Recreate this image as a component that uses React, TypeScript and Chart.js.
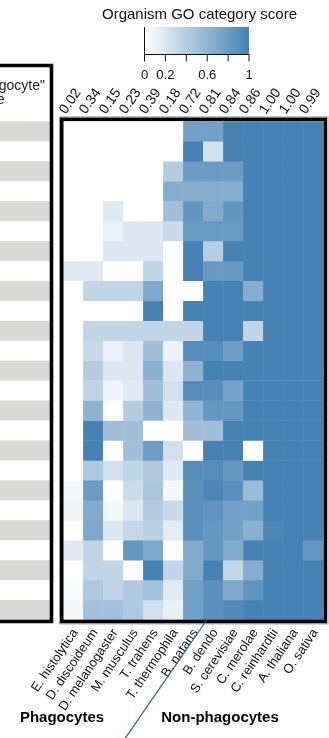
import React, { useEffect, useRef } from 'react';
import { Chart, registerables } from 'chart.js';

Chart.register(...registerables);

const organisms = [
  'E. histolytica', 'D. discoideum', 'D. melanogaster', 'M. musculus', 'T. trahens',
  'T. thermophila', 'B. natans', 'B. dendo', 'S. cerevisiae', 'C. merolae',
  'C. reinhardtii', 'A. thaliana', 'O. sativa',
];
const scoreLabels = ['0.02', '0.34', '0.15', '0.23', '0.39', '0.18', '0.72', '0.81', '0.84', '0.86', '1.00', '1.00', '0.99'];

const row00 = [0, 0, 0, 0, 0, 0, 0.76, 0.76, 1, 1, 1, 1, 1];
const row01 = [0, 0, 0, 0, 0, 0, 1, 0.24, 1, 1, 1, 1, 1];
const row02 = [0, 0, 0, 0, 0, 0.41, 0.8, 0.8, 0.8, 1, 1, 1, 1];
const row03 = [0, 0, 0, 0, 0, 0.66, 0.66, 0.66, 0.66, 1, 1, 1, 1];
const row04 = [0, 0, 0.18, 0, 0, 0.51, 0.84, 0.68, 0.84, 1, 1, 1, 1];
const row05 = [0, 0, 0.11, 0.19, 0.19, 0.29, 0.81, 0.81, 0.81, 1, 1, 1, 1];
const row06 = [0, 0, 0.19, 0.19, 0.19, 0, 1, 0.39, 1, 1, 1, 1, 1];
const row07 = [0.17, 0.17, 0, 0, 0.34, 0, 1, 0.82, 0.82, 1, 1, 1, 1];
const row08 = [0, 0.34, 0.34, 0.34, 0.69, 0, 0, 1, 1, 0.66, 1, 1, 1];
const row09 = [0, 0, 0, 0, 1, 0, 1, 1, 1, 1, 1, 1, 1];
const row10 = [0, 0.34, 0.34, 0.34, 0.34, 0.34, 0.34, 1, 1, 0.34, 1, 1, 1];
const row11 = [0, 0.3, 0.11, 0.19, 0.51, 0.11, 0.91, 0.91, 0.78, 1, 1, 1, 1];
const row12 = [0, 0.41, 0.19, 0.19, 0.62, 0.19, 0.61, 1, 1, 1, 1, 1, 1];
const row13 = [0, 0.35, 0.08, 0.17, 0.51, 0.25, 0.92, 0.92, 0.75, 1, 1, 1, 1];
const row14 = [0, 0.61, 0, 0.41, 0.61, 0.19, 0.6, 0.83, 0.83, 1, 1, 1, 1];
const row15 = [0, 1, 0.51, 0.51, 0, 0, 0.51, 0.51, 1, 1, 1, 1, 1];
const row16 = [0, 1, 0, 0.51, 0.79, 0.25, 0, 1, 1, 0, 1, 1, 1];
const row17 = [0, 0.43, 0.25, 0.34, 0.43, 0.17, 0.92, 0.92, 0.83, 1, 1, 1, 1];
const row18 = [0.06, 0.8, 0, 0.28, 0.46, 0.06, 0.89, 0.96, 0.89, 0.54, 1, 1, 1];
const row19 = [0.09, 0.68, 0.06, 0.19, 0.42, 0.29, 0.9, 0.86, 0.76, 0.76, 1, 1, 1];
const row20 = [0, 0.7, 0.2, 0.31, 0.38, 0.15, 0.9, 0.83, 0.76, 0.63, 0.96, 1, 1];
const row21 = [0.18, 0.34, 0, 0.83, 0.69, 0, 0.68, 0.83, 0.68, 1, 1, 1, 0.83];
const row22 = [0, 0.34, 0.34, 0, 1, 0.34, 0.68, 1, 0.32, 0.66, 1, 1, 1];
const row23 = [0.04, 0.44, 0.34, 0.43, 0.49, 0.16, 0.76, 0.88, 0.7, 0.86, 1, 1, 1];
const row24 = [0.06, 0.5, 0.5, 0.43, 0.25, 0.12, 0.77, 0.88, 0.94, 1, 1, 1, 1];

const rows = [
  row00, row01, row02, row03, row04, row05, row06, row07, row08, row09, row10, row11, row12,
  row13, row14, row15, row16, row17, row18, row19, row20, row21, row22, row23, row24,
];

const colorbarTicks = [0, 0.2, 0.4, 0.6, 0.8, 1];
const colorbarLabels = ['0', '0.2', '', '0.6', '', '1'];
const groupLabels = ['Phagocytes', 'Non-phagocytes'];

const LOW = [255, 255, 255];
const HIGH = [70, 130, 180];
const FONT = '"Liberation Sans", Arial, sans-serif';

function valueToColor(v: number): string {
  const c = LOW.map((l, i) => Math.round(l + (HIGH[i] - l) * v));
  return `rgb(${c[0]},${c[1]},${c[2]})`;
}

const decorPlugin = {
  id: 'decor',
  beforeDatasetsDraw(chart: any) {
    const { ctx, scales } = chart;
    const y = scales.y;
    ctx.save();
    ctx.fillStyle = '#d9d9d7';
    rows.forEach((_, r) => {
      if (r % 2 === 0) {
        const t = y.getPixelForValue(r);
        const b = y.getPixelForValue(r + 1);
        ctx.fillRect(0, t, 50, b - t);
      }
    });
    ctx.restore();
  },
  afterDraw(chart: any) {
    const { ctx, chartArea: a, scales } = chart;
    const x = scales.x;
    ctx.save();
    ctx.strokeStyle = '#b0b0b0';
    ctx.lineWidth = 1;
    ctx.strokeRect(a.left - 3.8, a.top - 4.5, a.right - a.left + 8.6, a.bottom - a.top + 8.5);
    ctx.strokeStyle = '#000';
    ctx.lineWidth = 3.6;
    ctx.strokeRect(a.left - 1.6, a.top - 2, a.right - a.left + 3.6, a.bottom - a.top + 3.5);

    ctx.beginPath();
    ctx.moveTo(-2, 65.5);
    ctx.lineTo(51.5, 65.5);
    ctx.lineTo(51.5, a.bottom + 1.5);
    ctx.lineTo(-2, a.bottom + 1.5);
    ctx.stroke();

    ctx.fillStyle = '#222';
    ctx.font = `14px ${FONT}`;
    ctx.textAlign = 'right';
    ctx.textBaseline = 'middle';
    ctx.fillText('"Phagocyte"', 45, 86);
    ctx.fillText('score', 4.5, 100);

    const cbL = 144.5, cbR = 249, cbT = 27, cbB = 54.5;
    const g = ctx.createLinearGradient(cbL, 0, cbR, 0);
    g.addColorStop(0, valueToColor(0));
    g.addColorStop(1, valueToColor(1));
    ctx.fillStyle = g;
    ctx.fillRect(cbL, cbT, cbR - cbL, cbB - cbT);
    ctx.strokeStyle = '#111';
    ctx.lineWidth = 1;
    ctx.beginPath();
    ctx.moveTo(cbL, cbT);
    ctx.lineTo(cbL, cbB);
    ctx.lineTo(cbR, cbB);
    colorbarTicks.forEach((t) => {
      const px = cbL + (cbR - cbL) * t;
      ctx.moveTo(px, cbB);
      ctx.lineTo(px, cbB + 7);
    });
    ctx.stroke();
    ctx.fillStyle = '#111';
    ctx.font = `13px ${FONT}`;
    ctx.textAlign = 'center';
    ctx.textBaseline = 'middle';
    colorbarTicks.forEach((t, i) => {
      const px = cbL + (cbR - cbL) * t;
      if (colorbarLabels[i]) ctx.fillText(colorbarLabels[i], px, 75.5);
    });
    ctx.font = `15px ${FONT}`;
    ctx.fillText('Organism GO category score', 199.5, 14.5);

    const sx = x.getPixelForValue(6) + (x.getPixelForValue(7) - x.getPixelForValue(6)) * 0.67;
    const sy = a.bottom;
    ctx.strokeStyle = '#2b6a9b';
    ctx.lineWidth = 1.3;
    ctx.beginPath();
    ctx.moveTo(sx, sy);
    ctx.lineTo(sx - 82, sy + 119);
    ctx.stroke();

    ctx.fillStyle = '#000';
    ctx.font = `bold 15px ${FONT}`;
    ctx.textAlign = 'center';
    ctx.fillText(groupLabels[0], 62, 718);
    ctx.fillText(groupLabels[1], 220, 718);
    ctx.restore();
  },
};

export default function App() {
  const ref = useRef<HTMLCanvasElement | null>(null);
  useEffect(() => {
    if (!ref.current) return;
    const chart = new Chart(ref.current, {
      type: 'bar',
      data: {
        labels: organisms,
        datasets: rows.map((vals, r) => ({
          label: `row ${r + 1}`,
          data: organisms.map(() => [r - 0.012, r + 1.012] as [number, number]),
          backgroundColor: vals.map(valueToColor),
          borderWidth: 0,
          barPercentage: 1.02,
          categoryPercentage: 1,
          grouped: false,
          xAxisID: 'x',
          yAxisID: 'y',
        })),
      },
      options: {
        animation: false,
        responsive: false,
        maintainAspectRatio: false,
        events: [],
        layout: { padding: { left: 63.3, right: 5.7, top: 0, bottom: 0 } },
        plugins: { legend: { display: false }, tooltip: { enabled: false }, title: { display: false } },
        scales: {
          x: {
            type: 'category',
            position: 'bottom',
            offset: true,
            grid: { display: false, drawTicks: false },
            border: { display: false },
            ticks: {
              autoSkip: false,
              minRotation: 56,
              maxRotation: 56,
              padding: 6,
              labelOffset: 2,
              color: '#111',
              font: { family: FONT, size: 13 },
            },
            afterFit: (s: any) => { s.height = 118; s.paddingLeft = 0; s.paddingRight = 0; },
          },
          xTop: {
            type: 'category',
            position: 'top',
            labels: scoreLabels,
            offset: true,
            grid: { display: false, drawTicks: false },
            border: { display: false },
            ticks: {
              autoSkip: false,
              minRotation: 55,
              maxRotation: 55,
              padding: 4,
              labelOffset: 3,
              color: '#111',
              font: { family: FONT, size: 14 },
            },
            afterFit: (s: any) => { s.height = 121.3; s.paddingLeft = 0; s.paddingRight = 0; },
          },
          y: {
            type: 'linear',
            min: 0,
            max: rows.length,
            reverse: true,
            display: false,
          },
        },
      },
      plugins: [decorPlugin],
    } as any);
    return () => chart.destroy();
  }, []);
  return (
    <div style={{ position: 'fixed', left: 0, top: 0, width: 329, height: 738, background: '#fff' }}>
      <canvas ref={ref} width={329} height={738} style={{ width: 329, height: 738, display: 'block' }} />
    </div>
  );
}
